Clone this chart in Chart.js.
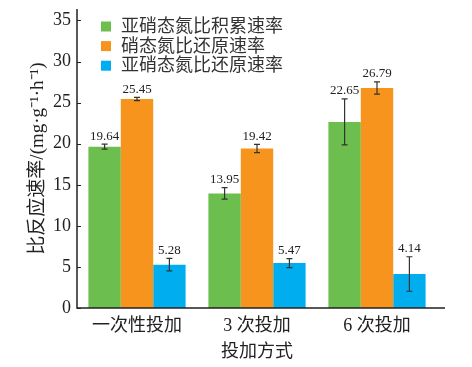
<!DOCTYPE html>
<html>
<head>
<meta charset="utf-8">
<script src="https://cdn.jsdelivr.net/npm/chart.js@4"></script>
<style>
  html, body { margin: 0; padding: 0; background: #fff; }
  #wrap { width: 472px; height: 367px; position: relative; }
</style>
</head>
<body>
<div id="wrap"><canvas id="chart"></canvas></div>
<script>
// dati
const categories = ['一次性投加', '3 次投加', '6 次投加'];
const seriesNames = ['亚硝态氮比积累速率', '硝态氮比还原速率', '亚硝态氮比还原速率'];

const nitriteAccum = [19.64, 13.95, 22.65];
const nitriteAccumErr = [0.3, 0.7, 2.8];

const nitrateReduce = [25.45, 19.42, 26.79];
const nitrateReduceErr = [0.2, 0.5, 0.75];

const nitriteReduce = [5.28, 5.47, 4.14];
const nitriteReduceErr = [0.75, 0.55, 2.1];

const yTicks = [0, 5, 10, 15, 20, 25, 30, 35];

const colors = ['#6cbf4f', '#f7941d', '#00aeef'];
const errors = [nitriteAccumErr, nitrateReduceErr, nitriteReduceErr];

const FONT = '"Liberation Serif", "Noto Sans CJK SC", serif';
const INK = '#222';

// barre di errore + etichette dei valori
const errorBars = {
  id: 'errorBars',
  afterDatasetsDraw(chart) {
    const ctx = chart.ctx;
    const y = chart.scales.y;
    ctx.save();
    chart.data.datasets.forEach((ds, i) => {
      const meta = chart.getDatasetMeta(i);
      meta.data.forEach((bar, j) => {
        const v = ds.data[j];
        const e = errors[i][j];
        const top = y.getPixelForValue(v + e);
        const bottom = y.getPixelForValue(v - e);
        ctx.strokeStyle = '#333';
        ctx.lineWidth = 1.2;
        ctx.beginPath();
        ctx.moveTo(bar.x, top);
        ctx.lineTo(bar.x, bottom);
        ctx.moveTo(bar.x - 3, top);
        ctx.lineTo(bar.x + 3, top);
        ctx.moveTo(bar.x - 3, bottom);
        ctx.lineTo(bar.x + 3, bottom);
        ctx.stroke();
        ctx.fillStyle = INK;
        ctx.font = '13px ' + FONT;
        ctx.textAlign = 'center';
        ctx.textBaseline = 'middle';
        ctx.fillText(v.toFixed(2), bar.x, top - 8);
      });
    });
    ctx.restore();
  }
};

// assi, tacche interne e legenda disegnati a mano
const axesAndLegend = {
  id: 'axesAndLegend',
  afterDraw(chart) {
    const ctx = chart.ctx;
    const a = chart.chartArea;
    const y = chart.scales.y;
    ctx.save();
    ctx.strokeStyle = INK;
    ctx.lineWidth = 1.5;
    ctx.beginPath();
    ctx.moveTo(a.left, a.top);
    ctx.lineTo(a.left, a.bottom);
    ctx.lineTo(a.right + 8, a.bottom);
    ctx.stroke();
    ctx.lineWidth = 1;
    ctx.beginPath();
    yTicks.forEach(t => {
      const py = Math.round(y.getPixelForValue(t)) + 0.5;
      ctx.moveTo(a.left, py);
      ctx.lineTo(a.left + 4, py);
    });
    ctx.stroke();

    ctx.font = '18px ' + FONT;
    ctx.textBaseline = 'middle';
    ctx.textAlign = 'left';
    chart.data.datasets.forEach((ds, i) => {
      const cy = 26.5 + i * 19.6;
      ctx.fillStyle = ds.backgroundColor;
      ctx.fillRect(101, cy - 5, 10, 10);
      ctx.fillStyle = '#333';
      ctx.fillText(ds.label, 121, cy + 1);
    });
    ctx.restore();
  }
};

const ctx = document.getElementById('chart').getContext('2d');

const chart = new Chart(ctx, {
  type: 'bar',
  data: {
    labels: categories,
    datasets: [
      { label: seriesNames[0], data: nitriteAccum, backgroundColor: colors[0] },
      { label: seriesNames[1], data: nitrateReduce, backgroundColor: colors[1] },
      { label: seriesNames[2], data: nitriteReduce, backgroundColor: colors[2] }
    ]
  },
  options: {
    responsive: true,
    maintainAspectRatio: false,
    animation: false,
    layout: { padding: { top: 9, right: 35, left: 0, bottom: 0 } },
    datasets: { bar: { categoryPercentage: 0.81, barPercentage: 1.0 } },
    plugins: {
      legend: { display: false },
      tooltip: { enabled: false }
    },
    scales: {
      x: {
        grid: { display: false, drawTicks: false },
        border: { display: false },
        ticks: { color: INK, font: { family: FONT, size: 18 }, padding: 7, maxRotation: 0 },
        title: { display: true, text: '投加方式', color: INK, font: { family: FONT, size: 18 }, padding: { top: 2, bottom: 4 } },
        afterFit(scale) { scale.height = 59; scale.paddingLeft = 0; scale.paddingRight = 0; }
      },
      y: {
        min: 0,
        max: 36.4,
        grid: { display: false, drawTicks: false },
        border: { display: false },
        ticks: { stepSize: 5, color: INK, font: { family: FONT, size: 18 }, padding: 6 },
        afterBuildTicks(scale) { scale.ticks = yTicks.map(v => ({ value: v })); },
        title: { display: true, text: '比反应速率/(mg·g⁻¹·h⁻¹)', color: INK, font: { family: FONT, size: 19 }, padding: { top: 27, bottom: 0 } },
        afterFit(scale) { scale.width = 77; scale.paddingTop = 0; scale.paddingBottom = 0; }
      }
    }
  },
  plugins: [errorBars, axesAndLegend]
});
</script>
</body>
</html>
